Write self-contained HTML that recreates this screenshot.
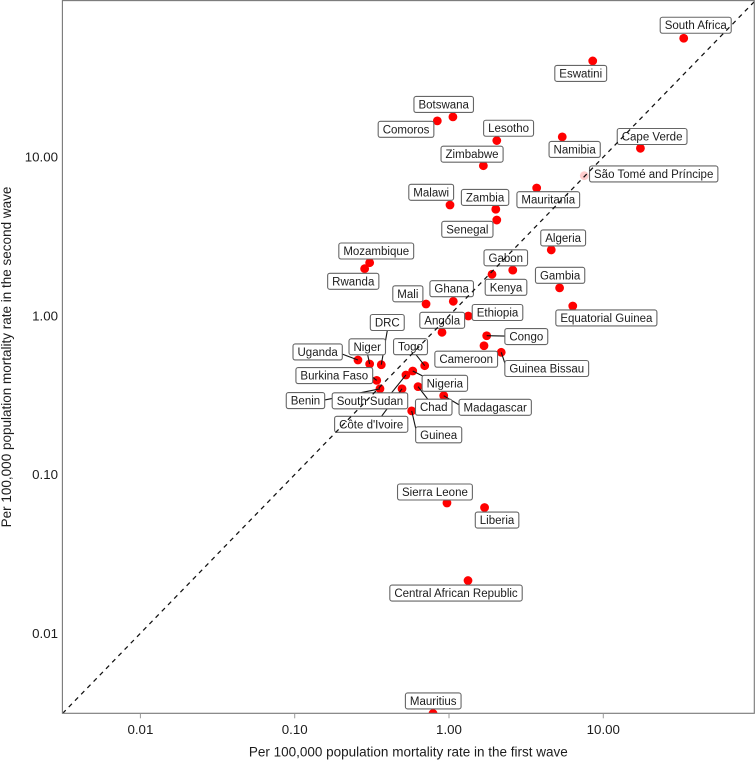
<!DOCTYPE html>
<html lang="en">
<head>
<meta charset="utf-8">
<title>Mortality rate in first and second wave</title>
<style>
html,body{margin:0;padding:0;background:#fff;width:755px;height:760px;overflow:hidden}
svg{display:block;font-family:"Liberation Sans",Arial,sans-serif}
</style>
</head>
<body>
<svg id="chart" xmlns="http://www.w3.org/2000/svg" width="755" height="760" viewBox="0 0 755 760"></svg>
<script>
const countries = ["South Africa","Eswatini","Botswana","Comoros","Lesotho","Namibia","Cape Verde","Zimbabwe","São Tomé and Príncipe","Malawi","Mauritania","Zambia","Senegal","Algeria","Mozambique","Rwanda","Mali","Ghana","Ethiopia","Angola","Uganda","Niger","DRC","Togo","Burkina Faso","Benin","South Sudan","Nigeria","Côte d'Ivoire","Chad","Madagascar","Guinea","Kenya","Gabon","Gambia","Equatorial Guinea","Congo","Cameroon","Guinea Bissau","Sierra Leone","Liberia","Central African Republic","Mauritius"];
const firstWave = [33.2,8.54,1.06,0.84,2.04,5.42,17.4,1.67,7.53,1.015,3.70,2.01,2.04,4.60,0.306,0.284,0.71,1.066,1.334,0.901,0.257,0.306,0.364,0.696,0.340,0.357,0.526,0.582,0.496,0.630,0.924,0.573,1.90,2.59,5.21,6.34,1.755,1.686,2.18,0.97,1.70,1.328,0.788];
const secondWave = [56.0,40.3,17.9,16.9,12.7,13.4,11.35,8.82,7.63,4.99,6.38,4.69,4.01,2.60,2.16,1.98,1.187,1.234,0.997,0.787,0.527,0.497,0.492,0.485,0.392,0.347,0.424,0.449,0.347,0.358,0.314,0.252,1.825,1.94,1.50,1.153,0.749,0.648,0.589,0.0662,0.0620,0.0215,0.00313];
const xTicks = [0.01,0.1,1,10];
const yTicks = [0.01,0.1,1,10];
const xTitle = "Per 100,000 population mortality rate in the first wave";
const yTitle = "Per 100,000 population mortality rate in the second wave";
const referenceLine = [0.00313,100];

/* plot frame and log axis functions */
const plotLeft = 62.4, plotRight = 754.3, plotTop = 0.6, plotBottom = 713.3;
const xAt = v => 449 + 154.3 * Math.log10(v);
const yAt = v => 315.8 - 158.77 * Math.log10(v);

/* label placement (repelled label centre, relative to its point) */
const labelPlacement = {
"South Africa":[12,-13],"Eswatini":[-12,12.5],"Botswana":[-9.2,-12.4],"Comoros":[-31.3,8.5],"Lesotho":[11.8,-12.3],"Namibia":[12.4,12.6],"Cape Verde":[11.7,-11.8],"Zimbabwe":[-11.3,-11.5],"São Tomé and Príncipe":[69.4,-1.7],"Malawi":[-18.8,-12.7],"Mauritania":[11.6,11.7],"Zambia":[-10.7,-11.8],"Senegal":[-29.4,9.3],"Algeria":[11.9,-12],"Mozambique":[6.6,-11.7],"Rwanda":[-11.4,12.6],"Mali":[-18.2,-10.2],"Ghana":[-1.6,-12.6],"Ethiopia":[29.2,-3.5],"Angola":[0.2,-12],"Uganda":[-40.3,-8],"Niger":[-2.4,-17.2],"DRC":[6,-42.2],"Togo":[-14.2,-19],"Burkina Faso":[-42.4,-4.8],"Benin":[-74.5,11.8],"South Sudan":[-36,25.8],"Nigeria":[32.1,12.3],"Côte d'Ivoire":[-30.8,35.5],"Chad":[15.7,20.6],"Madagascar":[51.5,11.6],"Guinea":[27,24],"Kenya":[14,13],"Gabon":[-7,-12.3],"Gambia":[0.5,-12.5],"Equatorial Guinea":[33.6,12],"Congo":[39.6,0.8],"Cameroon":[-17.8,13.5],"Guinea Bissau":[45.5,16.2],"Sierra Leone":[-12,-11],"Liberia":[12.5,12.5],"Central African Republic":[-12,12.5],"Mauritius":[0.2,-12.5]
};
/* connector end, relative to its point */
const connectorEnd = {
"Uganda":[-16,-6],"Niger":[-2,-9.3],"DRC":[6,-34],"Togo":[-8.7,-11],"Nigeria":[10,5],"Chad":[10.3,13.3],"Guinea":[4.3,18.6],"Madagascar":[15.6,9.3],"Guinea Bissau":[3.7,11],"Congo":[18.6,0.3],"South Sudan":[-14.3,17.7],"Côte d'Ivoire":[-20.3,27.3],"Benin":[-55.7,11.3],"Burkina Faso":[-4.4,-3.3]
};

const svg = document.getElementById('chart');
const NS = 'http://www.w3.org/2000/svg';
function make(tag, attrs, parent) {
  const el = document.createElementNS(NS, tag);
  for (const k in attrs) el.setAttribute(k, attrs[k]);
  (parent || svg).appendChild(el);
  return el;
}
const slug = s => s.normalize('NFD').replace(/[\u0300-\u036f]/g, '').toLowerCase().replace(/[^a-z0-9]+/g, '-');
const fmt = v => v.toFixed(2);
const axisColor = '#777';
const textColor = '#1c1c1c';

const defs = make('defs', {});
const clip = make('clipPath', {id: 'plot-clip'}, defs);
make('rect', {x: plotLeft, y: plotTop, width: plotRight - plotLeft, height: plotBottom - plotTop}, clip);

/* points */
const pointsGroup = make('g', {'clip-path': 'url(#plot-clip)'});


countries.forEach((name, i) => {
  const dot = make('circle', {
    cx: xAt(firstWave[i]), cy: yAt(secondWave[i]), r: 4.4, fill: '#ff0000',
    opacity: name === 'São Tomé and Príncipe' ? 0.2 : 1
  }, pointsGroup);
  
  
});

/* connectors */
const connectorsGroup = make('g', {});


countries.forEach((name, i) => {
  const end = connectorEnd[name];
  if (!end) return;
  const px = xAt(firstWave[i]), py = yAt(secondWave[i]);
  const seg = make('line', {x1: px, y1: py, x2: px + end[0], y2: py + end[1], stroke: '#111', 'stroke-width': 1.1}, connectorsGroup);
  
  
});

/* labels */
const labelsGroup = make('g', {});


countries.forEach((name, i) => {
  const off = labelPlacement[name];
  const cx = xAt(firstWave[i]) + off[0], cy = yAt(secondWave[i]) + off[1];
  const g = make('g', {}, labelsGroup);
  
  
  const box = make('rect', {y: cy - 8, height: 16, rx: 2.2, ry: 2.2, fill: '#fff', stroke: '#666', 'stroke-width': 1.1}, g);
  
  
  const t = make('text', {x: cx, y: cy + 4, 'text-anchor': 'middle', 'font-size': 11.5, fill: textColor}, g);
  
  
  t.textContent = name;
  const w = t.getComputedTextLength() + 9;
  box.setAttribute('x', cx - w / 2);
  box.setAttribute('width', w);
});

/* y = x reference line */
const refLine = make('line', {
  x1: xAt(referenceLine[0]), y1: yAt(referenceLine[0]), x2: xAt(referenceLine[1]), y2: yAt(referenceLine[1]),
  stroke: '#111', 'stroke-width': 1.25, 'stroke-dasharray': '4.5 4.4', 'clip-path': 'url(#plot-clip)'
});



/* frame */
const frame = make('rect', {x: plotLeft, y: plotTop, width: plotRight - plotLeft, height: plotBottom - plotTop, fill: 'none', stroke: axisColor, 'stroke-width': 1.1});



/* x axis */
xTicks.forEach(v => {
  const x = xAt(v);
  const tick = make('line', {x1: x, x2: x, y1: plotBottom, y2: plotBottom + 5, stroke: '#999', 'stroke-width': 1});
  
  
  const lab = make('text', {x: x, y: 734, 'text-anchor': 'middle', 'font-size': 13.3, fill: textColor});
  
  
  lab.textContent = fmt(v);
});

/* y axis */
yTicks.forEach(v => {
  const lab = make('text', {x: 58, y: yAt(v) + 4.6, 'text-anchor': 'end', 'font-size': 13.3, fill: textColor});
  
  
  lab.textContent = fmt(v);
});

/* axis titles */
const xt = make('text', {x: 408.3, y: 756.5, 'text-anchor': 'middle', 'font-size': 13.5, fill: textColor});


xt.textContent = xTitle;
const yt = make('text', {x: 0, y: 0, transform: 'translate(11,357) rotate(-90)', 'text-anchor': 'middle', 'font-size': 13.5, fill: textColor});


yt.textContent = yTitle;
</script>
</body>
</html>
